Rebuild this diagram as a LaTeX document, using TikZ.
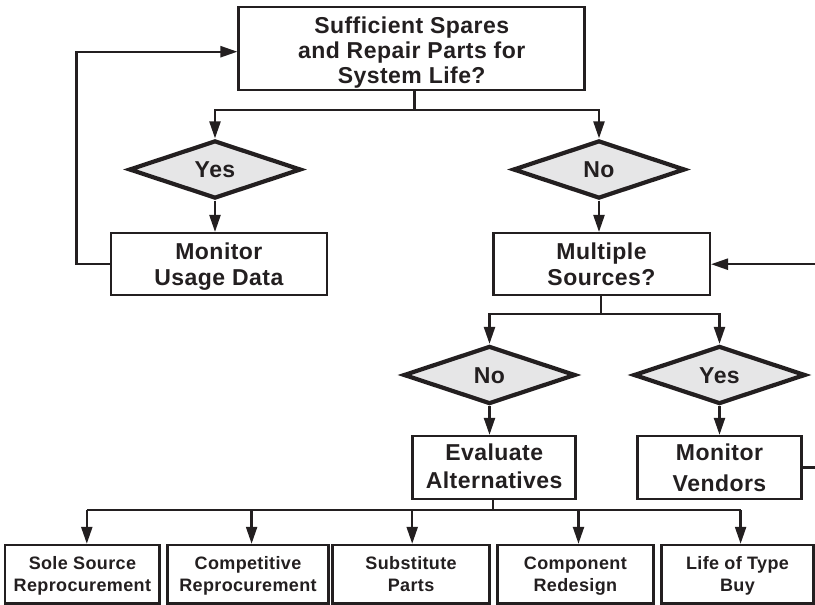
\documentclass[tikz,border=0pt]{standalone}
\usepackage{fontspec}
\setmainfont{Liberation Sans}[LetterSpace=2]
\usetikzlibrary{arrows.meta,shapes.geometric}
\definecolor{ink}{HTML}{231F20}
\definecolor{dfill}{HTML}{E6E6E7}
\newcommand\ustr[1]{\rule{0pt}{#1}}
\newcommand\dstr[1]{\rule[-#1]{0pt}{#1}}
\tikzset{
  box/.style={draw=ink, line width=2.5pt, fill=white, align=center, inner sep=0pt, text=ink,
    font=\bfseries\fontsize{23}{25}\selectfont},
  smallbox/.style={box, font=\bfseries\fontsize{18}{22.3}\selectfont},
  dia/.style={diamond, aspect=3, draw=ink, line width=4.2pt, fill=dfill, inner sep=0pt, text=ink,
    text height=16.5pt, text depth=0pt,
    minimum width=172pt, minimum height=58pt, font=\bfseries\fontsize{23}{25}\selectfont},
  arr/.style={draw=ink, line width=2.3pt, -{Triangle[length=17pt,width=11pt]}},
  ln/.style={draw=ink, line width=2.3pt}
}
\begin{document}
\begin{tikzpicture}[x=1pt,y=-1pt]
\useasboundingbox (0,0) rectangle (815,605);
% top question
\node[box, minimum width=346pt, minimum height=83.3pt] (top) at (411.7,48.4)
  {\ustr{24.8pt}Sufficient Spares\\and Repair Parts for\\System Life?\dstr{5pt}};
\node[dia] (yes1) at (215,169.5) {Yes};
\node[dia] (no1) at (599,169.5) {No};
\node[box, font=\bfseries\fontsize{23}{25.5}\selectfont, minimum width=216pt, minimum height=62pt] (mud) at (218.9,264.2)
  {\ustr{21.4pt}Monitor\\Usage Data\dstr{5pt}};
\node[box, font=\bfseries\fontsize{23}{25.5}\selectfont, minimum width=216.5pt, minimum height=62pt] (ms) at (601.5,264.2)
  {\ustr{21.4pt}Multiple\\Sources?\dstr{5pt}};
\node[dia] (no2) at (489.5,375) {No};
\node[dia] (yes2) at (719.5,375) {Yes};
\node[box, font=\bfseries\fontsize{23}{27.6}\selectfont, minimum width=163pt, minimum height=63pt] (ev) at (494.2,467.6)
  {\ustr{20.3pt}Evaluate\\Alternatives\dstr{6.5pt}};
\node[box, font=\bfseries\fontsize{23}{31}\selectfont, minimum width=164.4pt, minimum height=63pt] (mv) at (719.5,467.6)
  {\ustr{22.2pt}Monitor\\Vendors\dstr{5pt}};
\node[smallbox, minimum width=154.4pt, minimum height=58.3pt] (b1) at (82.4,574.2) {\ustr{17.5pt}Sole Source\\Reprocurement\dstr{5pt}};
\node[smallbox, minimum width=161pt, minimum height=58.3pt] (b2) at (248,574.2) {\ustr{17.5pt}Competitive\\Reprocurement\dstr{5pt}};
\node[smallbox, minimum width=157pt, minimum height=58.3pt] (b3) at (411.1,574.2) {\ustr{17.5pt}Substitute\\Parts\dstr{5pt}};
\node[smallbox, minimum width=156pt, minimum height=58.3pt] (b4) at (575.4,574.2) {\ustr{17.5pt}Component\\Redesign\dstr{5pt}};
\node[smallbox, minimum width=152pt, minimum height=58.3pt] (b5) at (737.5,574.2) {\ustr{17.5pt}Life of Type\\Buy\dstr{5pt}};
\coordinate (rin) at (816,264.2);
\coordinate (rout) at (816,467.6);
% branch 1
\coordinate (j1) at (414.5,110);
\draw[ln] (top.south -| j1) -- (j1);
\draw[arr] (j1) -| (yes1.north);
\draw[arr] (j1) -| (no1.north);
\draw[arr] (yes1.south) -- (yes1.south |- mud.north);
\draw[arr] (no1.south) -- (no1.south |- ms.north);
% feedback left
\draw[arr] (mud.west) -- ++(-33.3,0) |- ([yshift=-3.3pt]top.west);
% feedback right
\draw[arr] (rin) -- (ms.east);
% branch 2
\coordinate (j2) at (601,314);
\draw[ln] (ms.south -| j2) -- (j2);
\draw[arr] (j2) -| (no2.north);
\draw[arr] (j2) -| (yes2.north);
\draw[arr] (no2.south) -- (no2.south |- ev.north);
\draw[arr] (yes2.south) -- (yes2.south |- mv.north);
\draw[ln] (mv.east) -- (rout);
% branch 3
\coordinate (j3) at (492.7,510);
\draw[ln] (ev.south -| j3) -- (j3);
\draw[ln] ([xshift=4.4pt]b1.north |- j3) -- ([xshift=3.1pt]b5.north |- j3);
\draw[arr] ([xshift=4.4pt]b1.north |- j3) -- ([xshift=4.4pt]b1.north);
\draw[arr] ([xshift=3.6pt]b2.north |- j3) -- ([xshift=3.6pt]b2.north);
\draw[arr] ([xshift=1.1pt]b3.north |- j3) -- ([xshift=1.1pt]b3.north);
\draw[arr] ([xshift=3.1pt]b4.north |- j3) -- ([xshift=3.1pt]b4.north);
\draw[arr] ([xshift=3.1pt]b5.north |- j3) -- ([xshift=3.1pt]b5.north);
\end{tikzpicture}
\end{document}
